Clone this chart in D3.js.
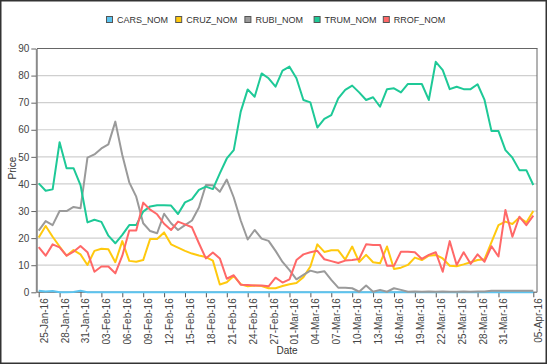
<!DOCTYPE html>
<html><head><meta charset="utf-8">
<script src="https://cdn.jsdelivr.net/npm/d3@7"></script>
<style>
body{margin:0;background:#fff}
svg{display:block}
text{font-family:"Liberation Sans",Arial,sans-serif}
</style>
</head><body>
<svg id="c" width="547" height="364"></svg>
<script>
const dates = [
"25-Jan-16","26-Jan-16","27-Jan-16","28-Jan-16","29-Jan-16","30-Jan-16","31-Jan-16",
"01-Feb-16","02-Feb-16","03-Feb-16","04-Feb-16","05-Feb-16","06-Feb-16","07-Feb-16","08-Feb-16","09-Feb-16","10-Feb-16",
"11-Feb-16","12-Feb-16","13-Feb-16","14-Feb-16","15-Feb-16","16-Feb-16","17-Feb-16","18-Feb-16","19-Feb-16","20-Feb-16",
"21-Feb-16","22-Feb-16","23-Feb-16","24-Feb-16","25-Feb-16","26-Feb-16","27-Feb-16","28-Feb-16","29-Feb-16",
"01-Mar-16","02-Mar-16","03-Mar-16","04-Mar-16","05-Mar-16","06-Mar-16","07-Mar-16","08-Mar-16","09-Mar-16","10-Mar-16",
"11-Mar-16","12-Mar-16","13-Mar-16","14-Mar-16","15-Mar-16","16-Mar-16","17-Mar-16","18-Mar-16","19-Mar-16","20-Mar-16",
"21-Mar-16","22-Mar-16","23-Mar-16","24-Mar-16","25-Mar-16","26-Mar-16","27-Mar-16","28-Mar-16","29-Mar-16","30-Mar-16",
"31-Mar-16","01-Apr-16","02-Apr-16","03-Apr-16","04-Apr-16","05-Apr-16"];

const seriesNames = ["CARS_NOM","CRUZ_NOM","RUBI_NOM","TRUM_NOM","RROF_NOM"];
const seriesColors = ["#5bc4f0","#ffc90e","#9a9a9a","#1ec997","#ff6868"];

const CARS = [0.6,0.3,0.5,0,0,0.1,0.6,0,0,0, 0,0,0,0,0,0,0,0,0,0, 0,0,0,0,0,0,0,0,0,0,
  0,0,0,0,0,0,0,0,0,0, 0,0,0,0,0,0,0,0,0,0, 0,0,0,0,0,0,0,0,0,0, 0,0,0,0,0,0,0,0,0,0, 0,0];
const CRUZ = [20.2,24.5,20.5,16.9,13.5,15.6,14,10.1,15.3,16.1,
  15.9,11.1,18.9,11.6,11.3,11.9,19.7,19.7,22.1,17.7,
  16.5,15.3,14.3,13.6,13,11.7,2.9,3.7,6,3,
  2.2,2.5,2.3,1.5,1.5,2.3,3,3.4,5.6,9.5,
  17.7,14.9,15.5,15.5,12.1,16.9,11.2,13.8,11.1,10.7,
  16.9,8.6,9.1,10.1,12.8,11.9,13.5,13.8,12.5,9.8,
  9.6,10.3,11.1,11.9,12.2,18.5,24.8,26.1,25.2,27.6,
  25.8,30];
const RUBI = [22.8,26.3,24.8,30,30,31.5,31,49.7,50.9,53.1,
  54.6,63,50.7,40.6,35.3,25.5,22.6,21.8,29,25.5,
  23,24.8,26.5,31.3,39.6,39.5,37.1,41.6,35,26.5,
  19.5,23,19.8,19,15.3,11.2,8.2,4.8,6.4,8,
  7.3,7.8,4.6,1.7,1.7,1.5,0.2,2.5,0.2,0.9,
  0.2,1.5,0.9,0.2,0.3,0.2,0.3,0.2,0.3,0.2,
  0.2,0.3,0.2,0.3,0.3,0.6,0.6,0.6,0.6,0.6,
  0.6,0.6];
const TRUM = [40.2,37.5,38,55.4,45.8,45.8,39.6,25.8,26.8,26,
  20.9,18.1,21.2,24.8,24.8,29.8,31.7,32.1,32.1,32,
  28.9,33.2,34.4,37.8,39,38.1,43.9,49.4,52.5,66.7,
  74.9,72.2,80.8,79,75.9,81.8,83.3,79,71,70.1,
  60.8,64,65.4,71.6,74.7,76.3,73.8,71,72,68.5,
  75,75.3,73.8,76.9,76.9,76.9,71,85.1,82,75,
  75.9,75,75,76.8,71,59.5,59.5,52.5,49.7,45.1,
  45.1,39.6];
const RROF = [16.7,13.5,17.7,16.6,13.5,15,17.1,14.8,7.6,9.5,
  9.5,7,13.5,22.8,22.8,33.1,30.5,28.8,25.3,23,
  26.1,25.1,24,18.1,12.5,14.7,12.5,5,6.3,2.8,
  2.7,2.5,2.5,2.2,5.4,3.6,4.8,11.9,14,14.8,
  15.3,12.2,11.5,10.8,11.7,11.9,12.3,17.7,17.5,17.5,
  9.8,9.8,15,15,14.8,12.3,13.8,14.8,7.6,18.9,
  10.1,14.8,10.5,14,11.3,17,13.2,30.4,20.5,27.9,
  24.8,28.3];

const xTickLabels = ["25-Jan-16","28-Jan-16","31-Jan-16","03-Feb-16","06-Feb-16","09-Feb-16","12-Feb-16",
  "15-Feb-16","18-Feb-16","21-Feb-16","24-Feb-16","27-Feb-16","01-Mar-16","04-Mar-16","07-Mar-16",
  "10-Mar-16","13-Mar-16","16-Mar-16","19-Mar-16","22-Mar-16","25-Mar-16","28-Mar-16","31-Mar-16","05-Apr-16"];
const yTicks = [0,10,20,30,40,50,60,70,80,90];

const allSeries = [CARS, CRUZ, RUBI, TRUM, RROF];

const parse = d3.timeParse("%d-%b-%y");
const fmt = d3.timeFormat("%d-%b-%y");
const parsedDates = dates.map(parse);

const svg = d3.select("#c");
const plot = {l:37, r:537, t:48.5, b:292.3};

const x = d3.scaleTime()
  .domain([parsedDates[0], parsedDates[parsedDates.length-1]])
  .range([38.7, 533.3]);
const y = d3.scaleLinear().domain([0,90]).range([plot.b, plot.t]);

// gridlines
svg.append("g").selectAll("line")
  .data(yTicks.filter(v => v > 0 && v < 90))
  .join("line")
  .attr("x1", plot.l).attr("x2", plot.r)
  .attr("y1", d => y(d)).attr("y2", d => y(d))
  .attr("stroke", "#cfcfcf").attr("stroke-width", 1.2);

// frame top & right
svg.append("line").attr("x1", plot.l).attr("x2", plot.r + 0.5)
  .attr("y1", y(90)).attr("y2", y(90)).attr("stroke", "#666").attr("stroke-width", 1);
svg.append("line").attr("x1", plot.r).attr("x2", plot.r)
  .attr("y1", y(90)).attr("y2", plot.b).attr("stroke", "#666").attr("stroke-width", 1);

// y axis
const yAxis = svg.append("g").attr("transform", "translate(36.3,0)")
  .call(d3.axisLeft(y).tickValues(yTicks).tickSize(5).tickSizeOuter(0).tickPadding(2));
yAxis.select(".domain").attr("stroke", "#8a8a8a").attr("stroke-width", 2);
yAxis.selectAll(".tick line").attr("stroke", "#666");
yAxis.selectAll("text").attr("font-size", 10).attr("fill", "#444")
  .style("font-family", "'Liberation Sans',Arial,sans-serif");

// x axis
const xAxis = svg.append("g").attr("transform", `translate(0,${plot.b})`)
  .call(d3.axisBottom(x).tickValues(xTickLabels.map(parse)).tickFormat(fmt).tickSize(5).tickSizeOuter(0));
xAxis.select(".domain").attr("stroke", "#8a8a8a").attr("stroke-width", 1.5)
  .attr("d", `M${plot.l},0H${plot.r}`);
xAxis.selectAll(".tick line").attr("stroke", "#555");
xAxis.selectAll("text")
  .attr("font-size", 10).attr("fill", "#444")
  .style("font-family", "'Liberation Sans',Arial,sans-serif")
  .attr("text-anchor", "end")
  .attr("transform", "rotate(-90)")
  .attr("x", -6).attr("y", 5).attr("dy", "0.35em");

// lines
const line = d3.line()
  .x((d, i) => x(parsedDates[i]))
  .y(d => y(d));
svg.append("g").selectAll("path")
  .data(allSeries)
  .join("path")
  .attr("d", d => line(d))
  .attr("fill", "none")
  .attr("stroke", (d, i) => seriesColors[i])
  .attr("stroke-width", 2)
  .attr("stroke-linejoin", "round");

// legend
const leg = svg.append("g").selectAll("g")
  .data(seriesNames)
  .join("g")
  .attr("transform", (d, i) => `translate(${106 + i * 69.2},0)`);
leg.append("rect").attr("x", 0.5).attr("y", 16.5).attr("width", 6).attr("height", 6)
  .attr("fill", (d, i) => seriesColors[i]).attr("stroke", "#555").attr("stroke-width", 1);
leg.append("text").attr("x", 11).attr("y", 23.3).attr("font-size", 9).attr("fill", "#333")
  .text(d => d);

// axis titles
svg.append("text").attr("x", 287).attr("y", 354).attr("text-anchor", "middle")
  .attr("font-size", 10).attr("fill", "#333").text("Date");
svg.append("text").attr("transform", "translate(16,168) rotate(-90)").attr("text-anchor", "middle")
  .attr("font-size", 10).attr("fill", "#333").text("Price");

// outer border
svg.append("rect").attr("x", 0.75).attr("y", 0.75).attr("width", 545.5).attr("height", 362.5)
  .attr("fill", "none").attr("stroke", "#333").attr("stroke-width", 1.5);
</script>
</body></html>
